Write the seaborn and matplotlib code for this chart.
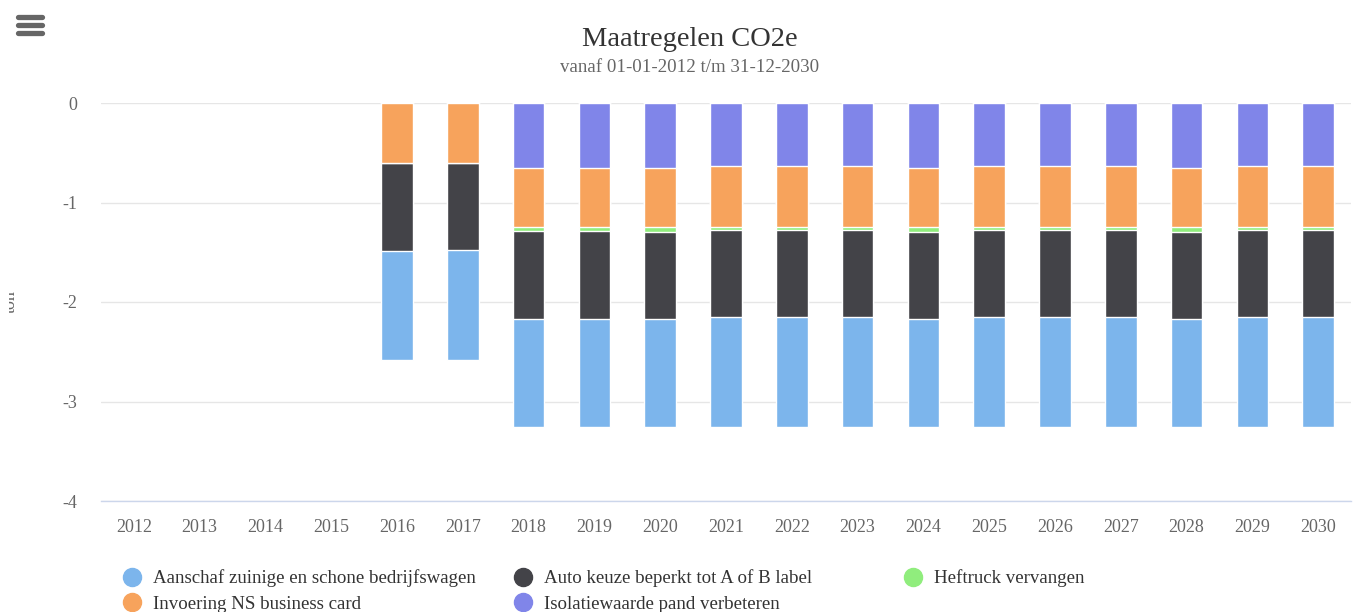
import numpy as np
import pandas as pd
import seaborn as sns
import matplotlib.pyplot as plt
from matplotlib.lines import Line2D
from matplotlib.transforms import Bbox, TransformedBbox

years = [str(y) for y in range(2012, 2031)]
# ton CO2e reductions per measure (shown as negative values, stacked)
aanschaf = [0, 0, 0, 0, 1.09, 1.105, 1.09, 1.09, 1.09, 1.10, 1.10, 1.10, 1.09, 1.10, 1.10, 1.10, 1.09, 1.10, 1.10]
auto_keuze = [0, 0, 0, 0, 0.89, 0.875, 0.885, 0.885, 0.87, 0.875, 0.875, 0.875, 0.87, 0.875, 0.875, 0.875, 0.87, 0.875, 0.875]
heftruck = [0, 0, 0, 0, 0, 0, 0.035, 0.035, 0.05, 0.03, 0.03, 0.03, 0.05, 0.03, 0.03, 0.03, 0.05, 0.03, 0.03]
ns_card = [0, 0, 0, 0, 0.60, 0.60, 0.595, 0.595, 0.595, 0.613, 0.613, 0.613, 0.595, 0.613, 0.613, 0.613, 0.595, 0.613, 0.613]
isolatie = [0, 0, 0, 0, 0, 0, 0.653, 0.653, 0.653, 0.637, 0.637, 0.637, 0.653, 0.637, 0.637, 0.637, 0.653, 0.637, 0.637]

series_names = ["Aanschaf zuinige en schone bedrijfswagen", "Auto keuze beperkt tot A of B label",
                "Heftruck vervangen", "Invoering NS business card", "Isolatiewaarde pand verbeteren"]
series_colors = ["#7cb5ec", "#434348", "#90ed7d", "#f7a35c", "#8085e9"]

sns.set_style("white")
plt.rcParams['font.family'] = ['Liberation Serif', 'DejaVu Serif']
plt.rcParams['axes.unicode_minus'] = False

fig = plt.figure(figsize=(13.59, 6.12), dpi=100)
ax = fig.add_axes([101 / 1359, 1 - 501 / 612, 1250 / 1359, 398 / 612])

# stack from zero downwards: last series sits closest to zero
df = pd.DataFrame({"year": years, "a": aanschaf, "b": auto_keuze, "c": heftruck, "d": ns_card, "e": isolatie})
stack_order = ["e", "d", "c", "b", "a"]
cum = -df[stack_order].cumsum(axis=1)
cum = cum.where(cum != 0)  # no bar at all for empty years
# draw deepest cumulative bar first, then overlay shallower ones
for col, color in zip(["a", "b", "c", "d", "e"], series_colors):
    sns.barplot(x=df["year"], y=cum[col], color=color, saturation=1, width=0.48,
                edgecolor="white", linewidth=1, ax=ax)

ax.set_xlim(-0.5, 18.5)
ax.set_ylim(-4, 0)
ax.set_yticks([0, -1, -2, -3, -4])
ax.set_yticklabels(["0", "-1", "-2", "-3", "-4"])
ax.set_xlabel("")
ax.set_ylabel("")
ax.grid(axis="y", color="#e6e6e6", linewidth=1)
ax.set_axisbelow(True)
for s in ["top", "right", "left"]:
    ax.spines[s].set_visible(False)
ax.spines["bottom"].set_color("#ccd6eb")
ax.spines["bottom"].set_linewidth(1)
ax.tick_params(axis="y", length=0, pad=17, labelsize=13, labelcolor="#666666")
ax.tick_params(axis="x", length=0, pad=13, labelsize=13, labelcolor="#666666")

fig.text(690 / 1359, 1 - 40 / 612, "Maatregelen CO2e", ha="center", va="center", fontsize=20.5, color="#333333")
fig.text(690 / 1359, 1 - 67 / 612, "vanaf 01-01-2012 t/m 31-12-2030", ha="center", va="center", fontsize=13.6, color="#666666")
ylab = fig.text(19 / 1359, 1 - 302 / 612, "ton", ha="right", va="center", rotation=90, fontsize=13, color="#666666")
ylab.set_clip_box(TransformedBbox(Bbox([[9 / 1359, 0], [0.1, 1]]), fig.transFigure))
ylab.set_clip_on(True)

# menu icon
for yy in [17, 25, 33]:
    fig.add_artist(Line2D([18 / 1359, 42 / 1359], [1 - yy / 612] * 2, color="#666666", linewidth=3.8,
                          solid_capstyle="round"))

def legend_handle(color):
    return Line2D([], [], marker="o", linestyle="none", markersize=13, markerfacecolor=color,
                  markeredgecolor=color)

columns = [([0, 3], 122.6), ([1, 4], 513.6), ([2], 903.6)]
for idx, left in columns:
    leg = fig.legend([legend_handle(series_colors[i]) for i in idx], [series_names[i] for i in idx],
                     loc="upper left", bbox_to_anchor=(left / 1359, 1 - 569.5 / 612), frameon=False,
                     fontsize=13.6, handlelength=1, handletextpad=0.61, borderpad=0, borderaxespad=0,
                     labelspacing=0.42, labelcolor="#333333")

fig.savefig("out.png", dpi=100)
